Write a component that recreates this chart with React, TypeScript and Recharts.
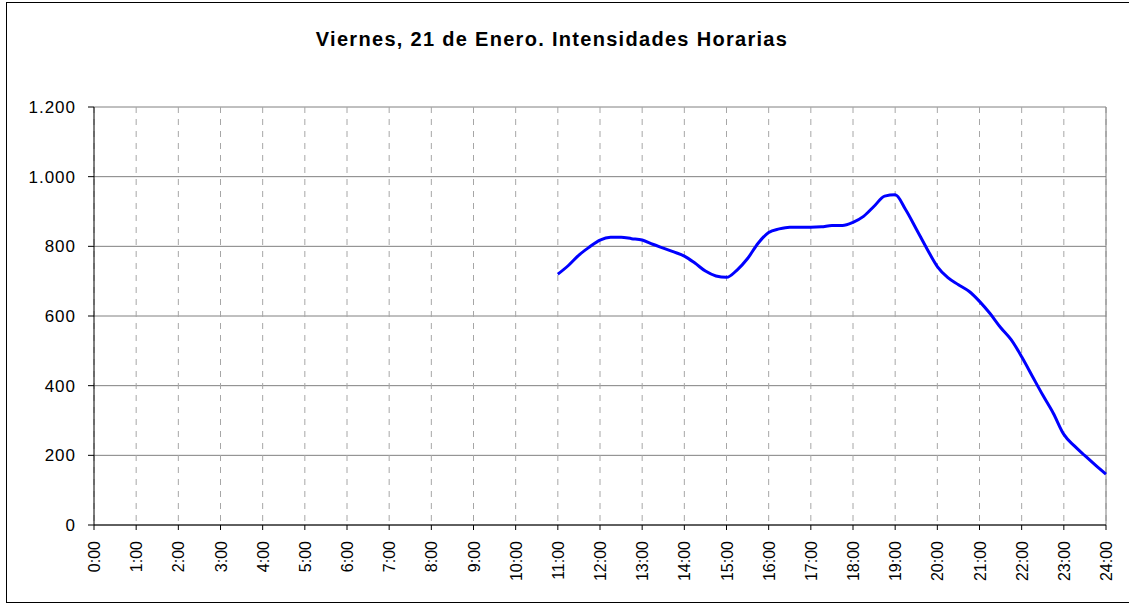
import { LineChart, Line, XAxis, YAxis, CartesianGrid, ReferenceLine } from "recharts";

const title = "Viernes, 21 de Enero. Intensidades Horarias";

// quarter-hour readings, 11:00 -> 24:00
const hours = [
  11, 11.25, 11.5, 11.75, 12, 12.25, 12.5, 12.75, 13, 13.25, 13.5, 13.75,
  14, 14.25, 14.5, 14.75, 15, 15.25, 15.5, 15.75, 16, 16.25, 16.5, 16.75,
  17, 17.25, 17.5, 17.75, 18, 18.25, 18.5, 18.75, 19, 19.25, 19.5, 19.75,
  20, 20.25, 20.5, 20.75, 21, 21.25, 21.5, 21.75, 22, 22.25, 22.5, 22.75,
  23, 23.25, 23.5, 23.75, 24,
];
const intensidad = [
  720, 745, 775, 798, 818, 826, 826, 822, 818, 806, 795, 784,
  772, 752, 729, 715, 711, 732, 765, 809, 840, 850, 855, 855,
  855, 856, 860, 860, 869, 886, 915, 944, 948, 905, 850, 794,
  742, 710, 690, 671, 642, 607, 567, 532, 483, 428, 373, 321,
  260, 227, 199, 172, 146,
];
const xTicks = Array.from({ length: 25 }, (_, i) => i);
const yTicks = [0, 200, 400, 600, 800, 1000, 1200];

const data = hours.map((h, i) => ({ h, v: intensidad[i] }));

const FONT = "'Liberation Sans', Arial, sans-serif";

function HourTick(props: { x?: number; y?: number; payload?: { value: number } }) {
  const { x = 0, y = 0, payload } = props;
  if (!payload) return null;
  return (
    <text
      x={0}
      y={0}
      transform={`translate(${x + 6},${y + 9}) rotate(-90)`}
      textAnchor="end"
      fontSize={16}
      fontFamily={FONT}
      fill="#000"
    >
      {`${payload.value}:00`}
    </text>
  );
}

const fmtY = (v: number) => v.toLocaleString("de-DE");

export default function App() {
  return (
    <div style={{ position: "absolute", left: 0, top: 0, width: 1129, height: 604, overflow: "hidden", background: "#fff" }}>
      <div
        style={{
          position: "absolute",
          left: 6,
          top: 2,
          width: 1140,
          height: 599,
          border: "1px solid #000",
        }}
      />
      <div
        style={{
          position: "absolute",
          left: 0,
          top: 28,
          width: 1104,
          textAlign: "center",
          fontFamily: FONT,
          fontWeight: "bold",
          fontSize: 20,
          letterSpacing: 1.3,
          color: "#000",
        }}
      >
        {title}
      </div>
      <div style={{ position: "absolute", left: 0, top: 0 }}>
        <LineChart width={1129} height={604} data={data} margin={{ top: 107, right: 23, bottom: 29, left: 34 }}>
          <CartesianGrid horizontal={true} vertical={false} stroke="#808080" strokeDasharray="" />
          <CartesianGrid horizontal={false} vertical={true} stroke="#a6a6a6" strokeDasharray="6 6" />
          <ReferenceLine x={24} stroke="#808080" />
          <XAxis
            dataKey="h"
            type="number"
            domain={[0, 24]}
            ticks={xTicks}
            interval={0}
            height={50}
            tick={<HourTick />}
            tickSize={5}
            stroke="#000"
            tickLine={{ stroke: "#000" }}
            axisLine={{ stroke: "#000" }}
          />
          <YAxis
            domain={[0, 1200]}
            ticks={yTicks}
            interval={0}
            width={60}
            tickSize={6}
            tickMargin={12}
            tickFormatter={fmtY}
            tick={{ fill: "#000", fontSize: 17, fontFamily: FONT, letterSpacing: 1 }}
            axisLine={{ stroke: "#000" }}
            tickLine={{ stroke: "#000" }}
          />
          <Line
            type="monotone"
            dataKey="v"
            stroke="#0000ff"
            strokeWidth={3}
            dot={false}
            isAnimationActive={false}
          />
        </LineChart>
      </div>
    </div>
  );
}
